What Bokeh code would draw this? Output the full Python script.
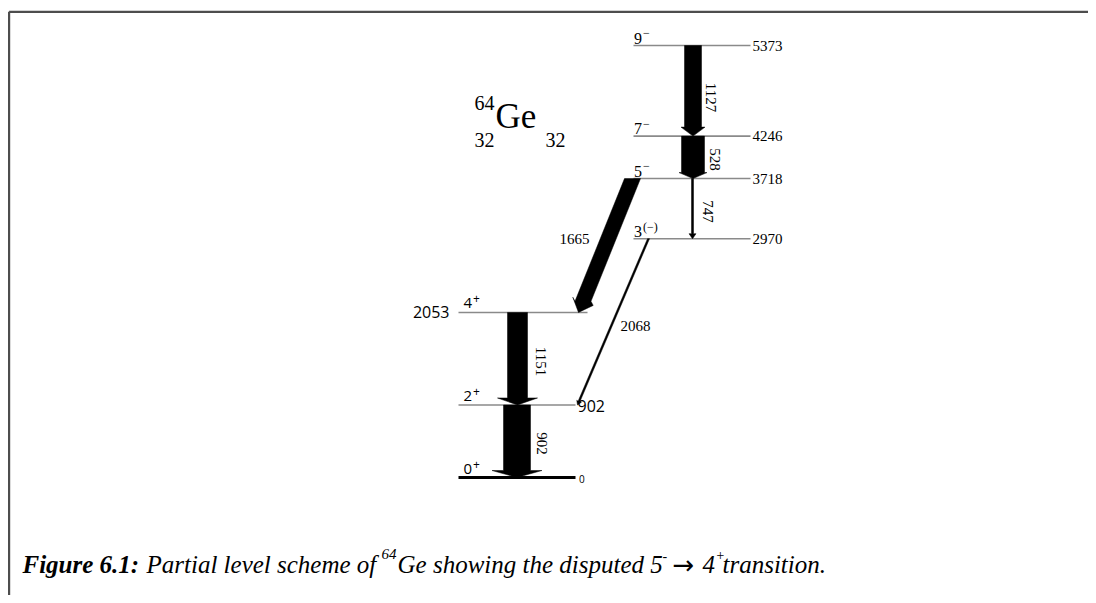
import math
from bokeh.plotting import figure
from bokeh.models import Range1d
from bokeh.embed import file_html
from bokeh.resources import INLINE
from bokeh.core.properties import value

# ---------------- data ----------------
level_energy = [0, 902, 2053, 2970, 3718, 4246, 5373]
level_spin = ["0", "2", "4", "3", "5", "7", "9"]
level_parity = ["+", "+", "+", "(−)", "−", "−", "−"]
level_label = ["0", "902", "2053", "2970", "3718", "4246", "5373"]

gamma_label = ["1127", "528", "747", "1665", "2068", "1151", "902"]
gamma_from = [5373, 4246, 3718, 3718, 2970, 2053, 902]
gamma_to = [4246, 3718, 2970, 2053, 902, 902, 0]

caption_bold = "Figure 6.1:"
caption_parts = ["Partial level scheme of", "64", "Ge showing the disputed 5", "-", "→", "4", "+", "transition."]

# ---------------- layout ----------------
W, H = 1088, 595
ZERO_PY = 477.0          # picture row of the 0 keV level
PX_PER_KEV = 0.0804

def E2py(E):
    return ZERO_PY - PX_PER_KEV * E

def py2y(py):
    return (ZERO_PY - py) / PX_PER_KEV

def px2x(px):
    return float(px)

SERIF = value("Liberation Serif")
SANS = value("Open Sans")

p = figure(width=W, height=H, x_range=Range1d(0, W),
           y_range=Range1d(py2y(H), py2y(0)),
           toolbar_location=None, output_backend="svg",
           x_axis_location=None, y_axis_location=None,
           min_border=0, outline_line_color=None)
p.grid.visible = False
p.background_fill_color = "white"
p.border_fill_color = "white"


def label(x, y, t, font=SERIF, size="15px", align="left", style="normal", angle=0.0):
    p.text([px2x(x)], [py2y(y)], text=[t], text_font=font, text_font_size=size,
           text_font_style=style, text_align=align, text_baseline="middle",
           angle=angle, text_color="black")

# frame border (top and left)
p.line([px2x(8.6), px2x(1100)], [py2y(11.3), py2y(11.3)], line_color="#4d4d4d", line_width=2.2)
p.line([px2x(8.6), px2x(8.6)], [py2y(11.3), py2y(620)], line_color="#4d4d4d", line_width=2.2)

# ---- levels ----
level_side = ["L", "L", "L", "R", "R", "R", "R"]
level_x0 = [458, 458, 458, 633, 633, 633, 633]
level_x1 = [575, 575, 587, 750, 750, 750, 750]
for E, x0, x1 in zip(level_energy, level_x0, level_x1):
    if E == 0:
        p.line([px2x(x0), px2x(x1)], [E, E], line_color="black", line_width=3)
    else:
        p.line([px2x(x0), px2x(x1)], [E, E], line_color="#8a8a8a", line_width=1.6)

# spin / parity labels
for E, s, par, side in zip(level_energy, level_spin, level_parity, level_side):
    py = E2py(E)
    if side == "L":
        label(463, py - 9, s, font=SANS, size="15px")
        label(472.5, py - 13.5, par, font=SANS, size="12px")
    else:
        label(633.5, py - 7.5, s, font=SERIF, size="16px")
        if par == "(−)":
            label(642.5, py - 12, par, font=SERIF, size="12px")
        else:
            label(642.5, py - 12.5, par, font=SERIF, size="12px")

# energy labels of levels
for E, lab, side in zip(level_energy, level_label, level_side):
    py = E2py(E)
    if side == "R":
        label(752, py, lab, font=SERIF, size="15px")
    elif E == 0:
        label(578.5, py + 1, lab, font=SANS, size="10px")
    elif lab == "902":
        label(577, py + 1, lab, font=SANS, size="16px")
    else:
        label(449, py, lab, font=SANS, size="16px", align="right")

# ---- gamma transitions ----
gamma_x_top = [692.5, 692.5, 692, 632, 648, 517, 516.5]
gamma_x_tip = [692.5, 692.5, 692, 578, 577, 517, 516.5]
gamma_sw = [17, 23, 2, 16, 2, 20, 27]
gamma_hw = [12, 14, 3.5, 11, 2.5, 20, 25]
gamma_hl = [9, 6, 5, 12, 4, 7, 7]


def arrow_poly(x_top, x_tip, e_from, e_to, sw, hw, hl):
    ty = E2py(e_from)
    tipy = E2py(e_to)
    dx, dy = x_tip - x_top, tipy - ty
    L = math.hypot(dx, dy)
    ux, uy = dx / L, dy / L
    nx, ny = -uy, ux
    bx, byb = x_tip - ux * hl, tipy - uy * hl
    pts = [(x_top - sw / 2, ty), (x_top + sw / 2, ty), (bx + sw / 2, byb),
           (bx - nx * hw, byb - ny * hw), (x_tip, tipy),
           (bx + nx * hw, byb + ny * hw), (bx - sw / 2, byb)]
    return [px2x(a) for a, b in pts], [py2y(b) for a, b in pts]

xs, ys = [], []
for i in range(len(gamma_label)):
    ax, ay = arrow_poly(gamma_x_top[i], gamma_x_tip[i], gamma_from[i], gamma_to[i],
                        gamma_sw[i], gamma_hw[i], gamma_hl[i])
    xs.append(ax)
    ys.append(ay)
p.patches(xs, ys, fill_color="black", line_color="black", line_width=0.5)

# gamma energy labels
gamma_lx = [710, 714, 707, 589, 620, 540, 541]
gamma_ly = [97, 159, 211, 238, 325, 361, 443]
gamma_rot = [True, True, True, False, False, True, True]
gamma_align = ["center", "center", "center", "right", "left", "center", "center"]
for lab, lx, ly, rot, al in zip(gamma_label, gamma_lx, gamma_ly, gamma_rot, gamma_align):
    label(lx, ly, lab, font=SERIF, size="15px", align=al, angle=(-math.pi / 2 if rot else 0.0))

# ---- nucleus title ----
label(495, 116, "Ge", size="35px")
label(494, 102, "64", size="20px", align="right")
label(494, 139, "32", size="20px", align="right")
label(545, 139, "32", size="20px")

# ---- caption ----
cap_y = 564
label(22, cap_y, caption_bold, size="25px", style="bold italic")
cap_x = [146, 381, 397, 662, 672, 702, 715, 722]
cap_dy = [0, -11, 0, -9, 0, 0, -10, 0]
cap_size = ["25px", "15px", "25px", "14px", "26px", "25px", "14px", "25px"]
cap_font = [SERIF, SERIF, SERIF, SERIF, value("DejaVu Sans"), SERIF, SERIF, SERIF]
cap_style = ["italic", "italic", "italic", "italic", "normal", "italic", "italic", "italic"]
for t, x, dy, sz, f, st in zip(caption_parts, cap_x, cap_dy, cap_size, cap_font, cap_style):
    label(x, cap_y + dy, t, font=f, size=sz, style=st)

open("out.html", "w").write(file_html(p, INLINE))
